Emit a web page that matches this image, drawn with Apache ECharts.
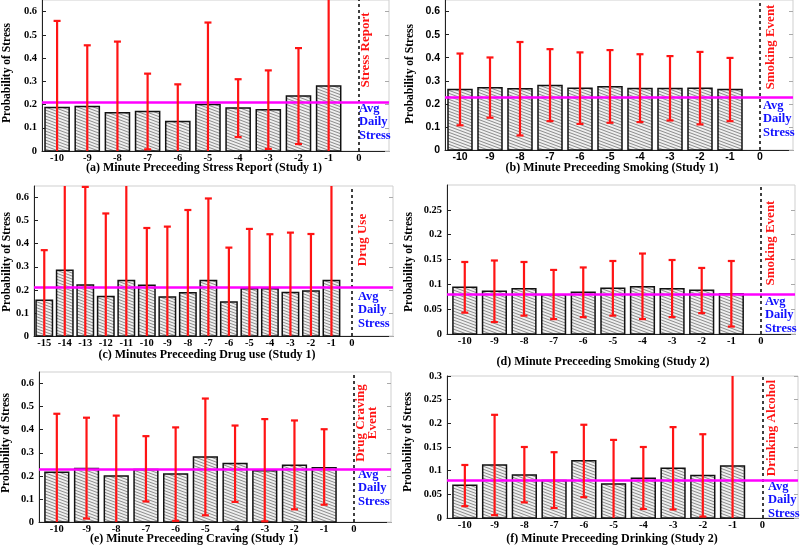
<!DOCTYPE html>
<html><head><meta charset="utf-8">
<script src="https://cdn.jsdelivr.net/npm/echarts@6/dist/echarts.min.js"></script>
<style>html,body{margin:0;padding:0;background:#fff}#c{width:800px;height:547px}</style>
</head><body><div id="c"></div>
<script>
// ---------------- DATA ----------------
const minutes10 = [-10,-9,-8,-7,-6,-5,-4,-3,-2,-1];
const minutes15 = [-15,-14,-13,-12,-11,-10,-9,-8,-7,-6,-5,-4,-3,-2,-1];
const xTicks10 = [-10,-9,-8,-7,-6,-5,-4,-3,-2,-1,0];
const xTicks15 = [-15,-14,-13,-12,-11,-10,-9,-8,-7,-6,-5,-4,-3,-2,-1,0];
const yTicks06 = [0,0.1,0.2,0.3,0.4,0.5,0.6];
const yTicks025 = [0,0.05,0.1,0.15,0.2,0.25];
const yTicks03 = [0,0.05,0.1,0.15,0.2,0.25,0.3];

// (a) Stress Report, Study 1
const aMean = [0.187,0.192,0.165,0.170,0.127,0.200,0.185,0.178,0.237,0.280];
const aLow  = [-0.19,-0.07,-0.14,0.007,-0.03,-0.15,0.060,0.009,0.030,-0.12];
const aHigh = [0.560,0.455,0.471,0.333,0.287,0.553,0.309,0.347,0.443,0.70];
const aAvg = 0.215;
// (b) Smoking, Study 1
const bMean = [0.262,0.270,0.265,0.280,0.268,0.274,0.267,0.267,0.268,0.262];
const bLow  = [0.107,0.140,0.063,0.125,0.113,0.118,0.121,0.128,0.111,0.125];
const bHigh = [0.418,0.401,0.468,0.437,0.423,0.433,0.415,0.407,0.425,0.399];
const bAvg = 0.232;
// (c) Drug use, Study 1
const cMean = [0.155,0.285,0.221,0.171,0.240,0.220,0.169,0.187,0.240,0.147,0.205,0.205,0.188,0.195,0.241];
const cLow  = [-0.062,-0.18,-0.204,-0.189,-0.27,-0.028,-0.136,-0.172,-0.116,-0.089,-0.054,-0.031,-0.072,-0.052,-0.24];
const cHigh = [0.372,0.75,0.646,0.531,0.75,0.468,0.474,0.546,0.596,0.383,0.464,0.441,0.448,0.442,0.72];
const cAvg = 0.213;
// (d) Smoking, Study 2
const dMean = [0.094,0.086,0.091,0.079,0.084,0.092,0.095,0.091,0.088,0.081];
const dLow  = [0.043,0.024,0.037,0.030,0.034,0.037,0.030,0.034,0.042,0.015];
const dHigh = [0.145,0.148,0.145,0.129,0.134,0.147,0.162,0.149,0.133,0.147];
const dAvg = 0.079;
// (e) Craving, Study 1
const eMean = [0.216,0.232,0.199,0.228,0.208,0.282,0.253,0.222,0.246,0.235];
const eLow  = [-0.04,0.015,-0.06,0.089,0.005,0.029,0.087,0.003,0.055,0.075];
const eHigh = [0.469,0.452,0.461,0.372,0.410,0.535,0.418,0.446,0.440,0.402];
const eAvg = 0.232;
// (f) Drinking, Study 2
const fMean = [0.069,0.112,0.091,0.079,0.121,0.072,0.084,0.105,0.090,0.110];
const fLow  = [0.025,0.006,0.033,0.021,0.044,-0.02,0.019,0.018,0.003,-0.09];
const fHigh = [0.112,0.218,0.150,0.139,0.197,0.165,0.150,0.192,0.177,0.31];
const fAvg = 0.080;

// ---------------- STYLE / LAYOUT ----------------
const SERIF = '"Liberation Serif","Times New Roman",serif';
const SANS = '"Liberation Sans",Arial,sans-serif';
const RED = '#ff1414', BLUE = '#1010ff', MAGENTA = '#ff00ff';

function makeHatch(){
  const c = document.createElement('canvas'); c.width = 8; c.height = 3;
  const g = c.getContext('2d');
  g.fillStyle = '#f0f0f0'; g.fillRect(0,0,8,3);
  g.strokeStyle = '#6a6a6a'; g.lineWidth = 0.75;
  for (const y0 of [-3,0,3]) { g.beginPath(); g.moveTo(0,y0); g.lineTo(8,y0+3); g.stroke(); }
  return c;
}
const hatch = { image: makeHatch(), repeat: 'repeat' };

const panels = [
  {grid:{left:42,top:0,width:347,height:151}, xMin:-10.5, xMax:1.0, yMax:0.65,
   minutes:minutes10, mean:aMean, low:aLow, high:aHigh, avg:aAvg, xTicks:xTicks10, yTicks:yTicks06, tickFont:SERIF,
   yName:[7,73], title:'(a) Minute Preceeding Stress Report (Study 1)', titlePos:[204,168],
   event:'Stress Report', eventPos:[366,50], avgPos:[359,102]},
  {grid:{left:445,top:0,width:348,height:150}, xMin:-10.5, xMax:1.1, yMax:0.65,
   minutes:minutes10, mean:bMean, low:bLow, high:bHigh, avg:bAvg, xTicks:xTicks10, yTicks:yTicks06, tickFont:SANS,
   yName:[410,74], title:'(b) Minute Preceeding Smoking (Study 1)', titlePos:[612,168],
   event:'Smoking Event', eventPos:[771,47], avgPos:[763,99]},
  {grid:{left:34,top:186,width:359,height:150}, xMin:-15.5, xMax:2.0, yMax:0.65,
   minutes:minutes15, mean:cMean, low:cLow, high:cHigh, avg:cAvg, xTicks:xTicks15, yTicks:yTicks06, tickFont:SERIF,
   yName:[7,262], title:'(c) Minutes Preceeding Drug use (Study 1)', titlePos:[207,355],
   event:'Drug Use', eventPos:[363,240], avgPos:[358,290]},
  {grid:{left:447,top:185,width:348,height:149}, xMin:-10.6, xMax:1.15, yMax:0.3,
   minutes:minutes10, mean:dMean, low:dLow, high:dHigh, avg:dAvg, xTicks:xTicks10, yTicks:yTicks025, tickFont:SERIF,
   yName:[409,262], title:'(d) Minute Preceeding Smoking (Study 2)', titlePos:[603,362],
   event:'Smoking Event', eventPos:[771,243], avgPos:[765,295]},
  {grid:{left:39,top:372,width:352,height:150}, xMin:-10.6, xMax:1.25, yMax:0.65,
   minutes:minutes10, mean:eMean, low:eLow, high:eHigh, avg:eAvg, xTicks:xTicks10, yTicks:yTicks06, tickFont:SERIF,
   yName:[6,443], title:'(e) Minute Preceeding Craving (Study 1)', titlePos:[194,539],
   event:'Drug Craving\nEvent', eventPos:[367,423], avgPos:[358,468]},
  {grid:{left:447,top:376,width:351,height:142}, xMin:-10.6, xMax:1.2, yMax:0.3,
   minutes:minutes10, mean:fMean, low:fLow, high:fHigh, avg:fAvg, xTicks:xTicks10, yTicks:yTicks03, tickFont:SERIF,
   yName:[408,442], title:'(f) Minute Preceeding Drinking (Study 2)', titlePos:[612,539],
   event:'Drinking Alcohol', eventPos:[772,428], avgPos:[768,480]}
];

const BAR_FRAC = 0.8;
function renderBar(params, api){
  const x = api.value(0), y = api.value(1);
  const p0 = api.coord([x, 0]), p1 = api.coord([x, y]);
  const w = api.size([1, 0])[0] * BAR_FRAC;
  return {type:'rect', shape:{x:p0[0]-w/2, y:p1[1], width:w, height:p0[1]-p1[1]},
    style:{fill:hatch, stroke:'#111', lineWidth:1.5}};
}
function makeErr(yMax){
  return function(params, api){
    const x = api.value(0);
    let lo = api.value(1), hi = api.value(2);
    const loCap = lo > 0, hiCap = hi < yMax;
    lo = Math.max(lo, 0); hi = Math.min(hi, yMax);
    const pL = api.coord([x, lo]), pH = api.coord([x, hi]);
    const cw = 3.5;
    const st = {stroke:RED, lineWidth:2.2};
    const ch = [{type:'line', shape:{x1:pL[0], y1:pL[1], x2:pH[0], y2:pH[1]}, style:st}];
    if (hiCap) ch.push({type:'line', shape:{x1:pH[0]-cw, y1:pH[1], x2:pH[0]+cw, y2:pH[1]}, style:st});
    if (loCap) ch.push({type:'line', shape:{x1:pL[0]-cw, y1:pL[1], x2:pL[0]+cw, y2:pL[1]}, style:st});
    return {type:'group', children:ch};
  };
}

const grids = [], xAxes = [], yAxes = [], series = [], graphics = [];
panels.forEach((p, i) => {
  grids.push(Object.assign({show:true, borderColor:'#cfcfcf', borderWidth:1, backgroundColor:'#fff'}, p.grid));
  xAxes.push({type:'value', gridIndex:i, min:p.xMin, max:p.xMax,
    axisLine:{show:true, onZero:false, lineStyle:{color:'#222', width:1}},
    axisTick:{show:false}, splitLine:{show:false},
    axisLabel:{customValues:p.xTicks, color:'#000', fontWeight:'bold', fontFamily:p.tickFont, fontSize:10.5, margin:2,
      formatter: v => String(v)}});
  yAxes.push({type:'value', gridIndex:i, min:0, max:p.yMax, position:'left',
    axisLine:{show:true, onZero:false, lineStyle:{color:'#222', width:1}},
    axisTick:{show:true, inside:true, length:4, customValues:p.yTicks, lineStyle:{color:'#222'}},
    splitLine:{show:false},
    axisLabel:{customValues:p.yTicks, color:'#000', fontWeight:'bold', fontFamily:p.tickFont, fontSize:10.5, margin:5,
      formatter: v => String(+v.toFixed(2))}});
  yAxes.push({type:'value', gridIndex:i, min:0, max:p.yMax, position:'right',
    axisLine:{show:false, onZero:false}, splitLine:{show:false}, axisLabel:{show:false},
    axisTick:{show:true, inside:true, length:4, customValues:p.yTicks, lineStyle:{color:'#aaa'}}});
  const yi = i*2;
  series.push({type:'custom', xAxisIndex:i, yAxisIndex:yi, z:2, renderItem:renderBar,
    data:p.minutes.map((m,k)=>[m, p.mean[k]])});
  series.push({type:'line', xAxisIndex:i, yAxisIndex:yi, z:3, data:[], silent:true,
    markLine:{symbol:'none', silent:true, label:{show:false}, z:3,
      data:[{xAxis:p.xTicks[p.xTicks.length-1], lineStyle:{color:'#000', width:1.5, type:[3,3]}}]}});
  series.push({type:'line', xAxisIndex:i, yAxisIndex:yi, z:4, data:[], silent:true,
    markLine:{symbol:'none', silent:true, label:{show:false}, z:4,
      data:[{yAxis:p.avg, lineStyle:{color:MAGENTA, width:2.6, type:'solid'}}]}});
  series.push({type:'custom', xAxisIndex:i, yAxisIndex:yi, z:5, renderItem:makeErr(p.yMax),
    data:p.minutes.map((m,k)=>[m, p.low[k], p.high[k]])});

  graphics.push({type:'text', x:p.yName[0], y:p.yName[1], rotation:Math.PI/2,
    style:{text:'Probability of Stress', fontFamily:SERIF, fontWeight:'bold', fontSize:11.5, fill:'#000', align:'center', verticalAlign:'middle'}});
  graphics.push({type:'text', x:p.titlePos[0], y:p.titlePos[1],
    style:{text:p.title, fontFamily:SERIF, fontWeight:'bold', fontSize:12, fill:'#000', align:'center', verticalAlign:'middle'}});
  graphics.push({type:'text', x:p.eventPos[0], y:p.eventPos[1], rotation:Math.PI/2,
    style:{text:p.event, fontFamily:SERIF, fontWeight:'bold', fontSize:13, lineHeight:12, fill:RED, align:'center', verticalAlign:'middle'}});
  graphics.push({type:'text', x:p.avgPos[0], y:p.avgPos[1],
    style:{text:'Avg\nDaily\nStress', fontFamily:SERIF, fontWeight:'bold', fontSize:12.5, lineHeight:13.5, fill:BLUE, align:'left', verticalAlign:'top'}});
});

const chart = echarts.init(document.getElementById('c'), null, {renderer:'canvas'});
chart.setOption({animation:false, backgroundColor:'#fff', grid:grids, xAxis:xAxes, yAxis:yAxes, series:series, graphic:graphics});
</script></body></html>
